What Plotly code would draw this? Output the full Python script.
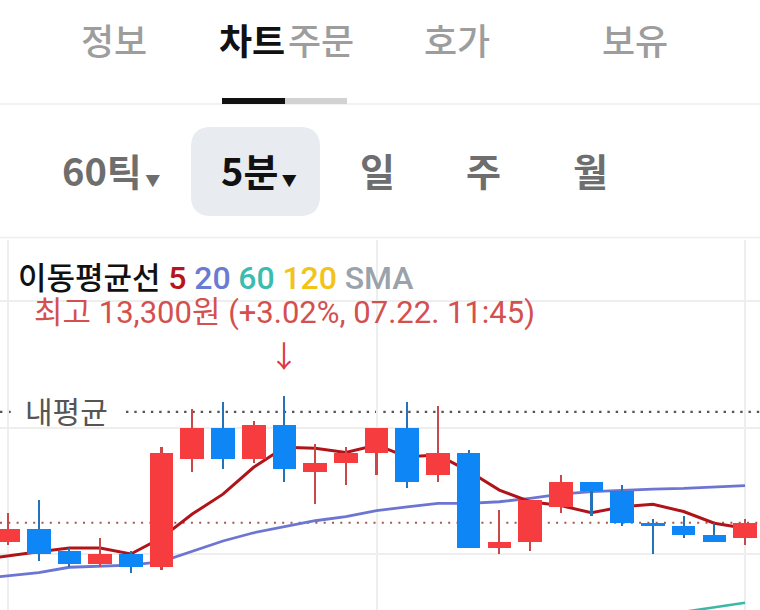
import plotly.graph_objects as go

# ---------------- data ----------------
times = ["10:55", "11:00", "11:05", "11:10", "11:15", "11:20", "11:25", "11:30",
         "11:35", "11:40", "11:45", "11:50", "11:55", "12:00", "12:05", "12:10",
         "12:15", "12:20", "12:25", "12:30", "12:35", "12:40", "12:45", "12:50",
         "12:55", "13:00"]
candle_times = times[1:]

opens = [12840, 12880, 12810, 12770, 12800, 12760, 13100, 13200, 13100, 13210,
         13060, 13090, 13120, 13200, 13050, 13120, 12820, 12840, 12950, 13030,
         13000, 12900, 12890, 12860, 12850]
highs = [12930, 12970, 12820, 12850, 12810, 13140, 13260, 13280, 13220, 13300,
         13150, 13140, 13200, 13280, 13270, 13130, 12940, 12970, 13050, 13030,
         13020, 12910, 12920, 12900, 12910]
lows = [12830, 12780, 12760, 12760, 12740, 12750, 13060, 13070, 13090, 13030,
        12960, 13020, 13050, 13010, 13030, 12820, 12800, 12810, 12930, 12920,
        12890, 12800, 12850, 12840, 12830]
closes = [12880, 12800, 12770, 12800, 12760, 13120, 13200, 13100, 13210, 13070,
          13090, 13120, 13200, 13030, 13120, 12820, 12840, 12970, 13030, 13000,
          12900, 12890, 12860, 12840, 12900]

ma5 = [12782, 12796, 12808, 12820, 12820, 12801, 12852, 12927, 12990, 13075,
       13138, 13135, 13122, 13145, 13108, 13114, 13063, 13003, 12966, 12954,
       12931, 12950, 12958, 12935, 12898, 12882]
ma20 = [12722, 12731, 12742, 12759, 12763, 12766, 12777, 12810, 12842, 12868,
        12887, 12906, 12919, 12938, 12950, 12961, 12961, 12966, 12977, 12990,
        12998, 13003, 13006, 13008, 13012, 13017]
ma60_times = ["12:40", "12:45", "12:50", "12:55", "13:00"]
ma60 = [12589, 12604, 12618, 12632, 12647]

grid_prices = [12800, 13200, 13600]
grid_times = ["11:00", "12:00", "13:00"]
avg_price = 13250      # 내평균
ref_price = 12900      # 기준가
high_time = "11:45"
high_price = 13300

tabs = ["정보", "차트", "주문", "호가", "보유"]
periods = ["60틱", "5분", "일", "주", "월"]
high_label = "최고 13,300원 (+3.02%, 07.22. 11:45)"

# ---------------- layout constants ----------------
W, H = 760, 610
PLOT_TOP = 240
REF_PX, REF_VAL, WON_PER_PX = 427.7, 13200, 3.16
y_lo = REF_VAL - (H - REF_PX) * WON_PER_PX
y_hi = REF_VAL + (REF_PX - PLOT_TOP) * WON_PER_PX
STEP, FIRST_PX = 30.71, 8.0
x_lo = 1 - FIRST_PX / STEP
x_hi = 1 + (W - FIRST_PX) / STEP

RED, BLUE = "#f73c3f", "#0f86f5"
RED_WICK, BLUE_WICK = "#c9484a", "#2473b8"


def px(x):
    return x / W


def py(y):
    return 1 - y / H


CJK = "Noto Sans CJK KR"
ROB = "Roboto, Noto Sans CJK KR"

up = [c >= o for o, c in zip(opens, closes)]
body_base = [min(o, c) for o, c in zip(opens, closes)]
body_len = [abs(c - o) for o, c in zip(opens, closes)]
wick_len = [h - l for h, l in zip(highs, lows)]
body_col = [RED if u else BLUE for u in up]
wick_col = [RED_WICK if u else BLUE_WICK for u in up]

fig = go.Figure()

# moving averages (base axes, under candles)
fig.add_trace(go.Scatter(x=times, y=ma20, mode="lines",
                         line=dict(color="#6c76d2", width=2.8), xaxis="x", yaxis="y"))
fig.add_trace(go.Scatter(x=ma60_times, y=ma60, mode="lines",
                         line=dict(color="#3cb9a6", width=2.6), xaxis="x", yaxis="y"))
fig.add_trace(go.Scatter(x=times, y=ma5, mode="lines",
                         line=dict(color="#b01419", width=3), xaxis="x", yaxis="y"))

# candles (overlay axes, drawn above the lines)
fig.add_trace(go.Bar(x=candle_times, y=wick_len, base=lows, width=0.07,
                     marker=dict(color=wick_col, line=dict(width=0)),
                     xaxis="x2", yaxis="y2"))
fig.add_trace(go.Bar(x=candle_times, y=body_len, base=body_base, width=0.77,
                     marker=dict(color=body_col, line=dict(width=0)),
                     xaxis="x2", yaxis="y2"))

dom_y = [0, py(PLOT_TOP)]
common_x = dict(type="category", categoryorder="array", categoryarray=times,
                range=[x_lo, x_hi], domain=[0, 1], showticklabels=False,
                ticks="", zeroline=False, showline=False, fixedrange=True)
fig.update_layout(
    width=W, height=H, margin=dict(l=0, r=0, t=0, b=0),
    paper_bgcolor="white", plot_bgcolor="white", showlegend=False,
    barmode="overlay", bargap=0,
    xaxis=dict(**common_x, showgrid=True, gridcolor="#eeeeee", gridwidth=1.5,
               tickvals=grid_times),
    yaxis=dict(range=[y_lo, y_hi], domain=dom_y, showgrid=True, gridcolor="#eeeeee",
               gridwidth=1.5, tickvals=grid_prices, showticklabels=False,
               zeroline=False, ticks=""),
    xaxis2=dict(**{k: v for k, v in common_x.items() if k != "domain"},
                overlaying="x", showgrid=False, visible=False),
    yaxis2=dict(range=[y_lo, y_hi], overlaying="y", showgrid=False, visible=False),
)

shapes = []
# tab separator + underline
shapes.append(dict(type="line", xref="paper", yref="paper", x0=0, x1=1,
                   y0=py(104), y1=py(104), line=dict(color="#eeeeee", width=1.5)))
shapes.append(dict(type="rect", xref="paper", yref="paper", x0=px(222), x1=px(285),
                   y0=py(104), y1=py(98), fillcolor="#111111", line=dict(width=0)))
shapes.append(dict(type="rect", xref="paper", yref="paper", x0=px(285), x1=px(347),
                   y0=py(104), y1=py(98), fillcolor="#d2d2d2", line=dict(width=0)))
# selected period pill
x0, x1, y0, y1, r = 191, 320, 127, 216, 20
path = (f"M {px(x0 + r)} {py(y0)} L {px(x1 - r)} {py(y0)} "
        f"Q {px(x1)} {py(y0)} {px(x1)} {py(y0 + r)} L {px(x1)} {py(y1 - r)} "
        f"Q {px(x1)} {py(y1)} {px(x1 - r)} {py(y1)} L {px(x0 + r)} {py(y1)} "
        f"Q {px(x0)} {py(y1)} {px(x0)} {py(y1 - r)} L {px(x0)} {py(y0 + r)} "
        f"Q {px(x0)} {py(y0)} {px(x0 + r)} {py(y0)} Z")
shapes.append(dict(type="path", xref="paper", yref="paper", path=path,
                   fillcolor="#e8ebef", line=dict(width=0)))
# chart top separator
shapes.append(dict(type="line", xref="paper", yref="paper", x0=0, x1=1,
                   y0=py(237.5), y1=py(237.5), line=dict(color="#eeeeee", width=1.5)))
# 내평균 dotted line (gap for label)
for a, b in [(0, 13), (126, W)]:
    shapes.append(dict(type="line", xref="paper", yref="y", x0=px(a), x1=px(b),
                       y0=avg_price, y1=avg_price, layer="below",
                       line=dict(color="#555555", width=2.4, dash="2.4px,5.9px")))
# reference price dotted line
shapes.append(dict(type="line", xref="paper", yref="y", x0=0, x1=1,
                   y0=ref_price, y1=ref_price, layer="below",
                   line=dict(color="#a8564f", width=2, dash="2px,6.3px")))
fig.update_layout(shapes=shapes)

ann = []


def txt(text, x, y, size, color, family=CJK, xanchor="center", weight=None):
    f = dict(size=size, color=color, family=family)
    if weight:
        f["weight"] = weight
    ann.append(dict(text=text, x=px(x), y=py(y), xref="paper", yref="paper",
                    xanchor=xanchor, yanchor="middle", showarrow=False, font=f))


# tabs
GRAY_TAB = "#9d9d9d"
txt(tabs[0], 114, 39, 36, GRAY_TAB, weight=500)
txt(tabs[1], 287, 39, 36, "#111111", xanchor="right", weight=700)
txt(tabs[2], 286, 39, 36, GRAY_TAB, xanchor="left", weight=500)
txt(tabs[3], 457, 39, 36, GRAY_TAB, weight=500)
txt(tabs[4], 635, 39, 36, GRAY_TAB, weight=500)

# periods
tri = "<span style='font-size:15px'> ▼</span>"
txt(periods[0] + tri, 60, 170, 38, "#6e6e6e", xanchor="left", weight=700)
txt(periods[1] + tri, 219, 170, 38, "#111111", xanchor="left", weight=700)
txt(periods[2], 377, 170, 38, "#6e6e6e", weight=700)
txt(periods[3], 483, 170, 38, "#6e6e6e", weight=700)
txt(periods[4], 590, 170, 38, "#6e6e6e", weight=700)

# MA legend
legend = ("이동평균선 "
          "<span style='color:#b5161c;font-size:32px'>5</span> "
          "<span style='color:#6a7bd1;font-size:32px'>20</span> "
          "<span style='color:#3cbcb0;font-size:32px'>60</span> "
          "<span style='color:#f2c318;font-size:32px'>120</span> "
          "<span style='color:#9aa2ab;font-size:32px'>SMA</span>")
txt(legend, 16, 278, 31, "#111111", family=ROB, xanchor="left", weight=500)

# 내평균 label
txt("내평균", 23, 410, 30, "#555555", family=CJK, xanchor="left")

# high marker (anchored on data)
ann.append(dict(text="↓", x=high_time, y=high_price, xref="x", yref="y",
                yanchor="middle", xanchor="center", yshift=40, showarrow=False,
                font=dict(size=30, color="#e03b3b", family=ROB)))
ann.append(dict(text=high_label, x=high_time, y=high_price, xref="x", yref="y",
                yanchor="middle", xanchor="center", yshift=84, showarrow=False,
                font=dict(size=31, color="#d4504f", family=ROB)))

fig.update_layout(annotations=ann)
fig.write_html("out.html")
